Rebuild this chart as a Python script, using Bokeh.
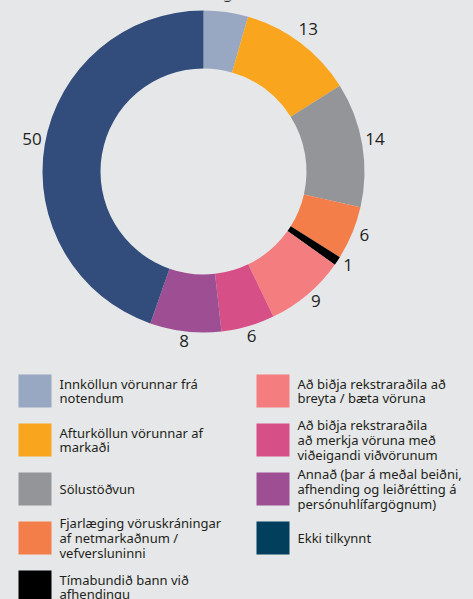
import math
from bokeh.plotting import figure
from bokeh.models import Range1d, ColumnDataSource
from bokeh.core.properties import value
from bokeh.embed import file_html
from bokeh.resources import INLINE

# ---- data ----
categories = [
    "Innköllun vörunnar frá\nnotendum",
    "Afturköllun vörunnar af\nmarkaði",
    "Sölustöðvun",
    "Fjarlæging vöruskráningar\naf netmarkaðnum /\nvefversluninni",
    "Tímabundið bann við\nafhendingu",
    "Að biðja rekstraraðila að\nbreyta / bæta vöruna",
    "Að biðja rekstraraðila\nað merkja vöruna með\nviðeigandi viðvörunum",
    "Annað (þar á meðal beiðni,\nafhending og leiðrétting á\npersónuhlífargögnum)",
    "Ekki tilkynnt",
]
counts = [5, 13, 14, 6, 1, 9, 6, 8, 50]
wedge_colors = ["#98A8C2", "#F9A61E", "#939598", "#F47E4A", "#000000",
                "#F47D80", "#D64F87", "#9E4F93", "#324D7C"]
legend_colors = ["#98A8C2", "#F9A61E", "#939598", "#F47E4A", "#000000",
                 "#F47D80", "#D64F87", "#9E4F93", "#023F5C"]

BG = "#E6E7E8"
TXT = "#231F20"
W, H = 473, 599

p = figure(width=W, height=H, output_backend="svg", toolbar_location=None,
           x_range=Range1d(0, W), y_range=Range1d(0, H), min_border=0)
p.axis.visible = False
p.grid.visible = False
p.outline_line_color = None
p.background_fill_color = BG
p.border_fill_color = BG

# donut
cx, cy = 203, H - 171
r_in, r_out = 103, 161
total = sum(counts)
starts, ends, mids = [], [], []
acc = 0
for c in counts:
    a0 = math.pi / 2 - acc / total * 2 * math.pi
    acc += c
    a1 = math.pi / 2 - acc / total * 2 * math.pi
    starts.append(a0)
    ends.append(a1)
    mids.append((a0 + a1) / 2)

src = ColumnDataSource(dict(start=starts, end=ends, color=wedge_colors))
p.annular_wedge(x=cx, y=cy, inner_radius=r_in, outer_radius=r_out,
                start_angle="start", end_angle="end", direction="clock",
                color="color", line_color=None, source=src)

r_lab = 174
lx = [cx + r_lab * math.cos(m) for m in mids]
ly = [cy + r_lab * math.sin(m) + 3 for m in mids]
p.text(x=lx, y=ly, text=[str(c) for c in counts], text_align="center",
       text_baseline="middle", text_font=value("Open Sans"),
       text_font_size="17px", text_color=TXT)

# legend
sq = 33
sx, sy, tx = [], [], []
for i in range(len(categories)):
    col = 0 if i < 5 else 1
    row = i if i < 5 else i - 5
    x0 = 18 if col == 0 else 256
    top = 374 + 49 * row
    sx.append(x0 + sq / 2)
    sy.append(H - (top + sq / 2))
    tx.append(x0 + sq + 8)
p.rect(x=sx, y=sy, width=sq, height=sq, color=legend_colors, line_color=None)
p.text(x=tx, y=sy, text=categories, text_align="left", text_baseline="middle",
       text_font=value("Noto Sans"), text_font_size="13px", text_color=TXT,
       text_line_height=0.82)

html = file_html(p, INLINE)
html = html.replace("<head>", "<head><style>html,body{background:%s;}</style>" % BG, 1)
open("out.html", "w").write(html)
